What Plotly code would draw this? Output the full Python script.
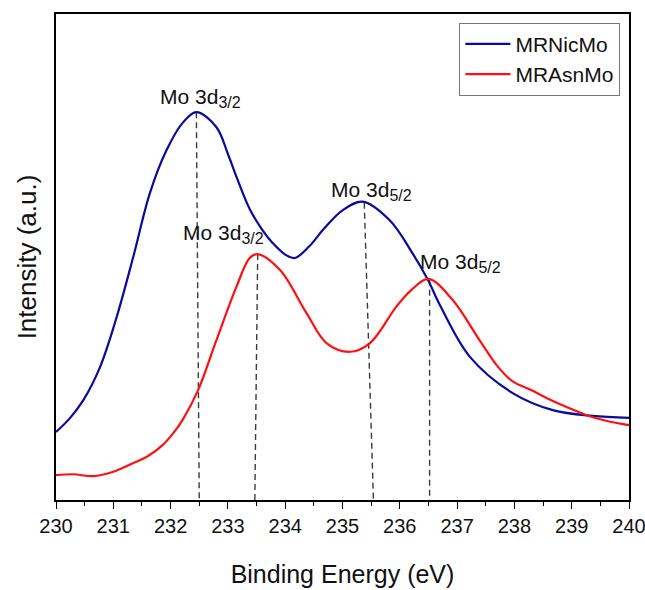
import numpy as np
import plotly.graph_objects as go

# Mo 3d XPS spectra
energy_nic = [230.0, 230.24, 230.48, 230.77, 231.06, 231.35, 231.64, 231.93, 232.21, 232.45,
              232.80, 233.0, 233.15, 233.38, 233.6, 233.78, 234.0, 234.17, 234.42, 234.66,
              235.0, 235.35, 235.82, 236.22, 236.49, 236.70, 237.22, 237.97, 238.67, 239.36, 240.0]
intensity_nic = [14.0, 16.8, 20.6, 27.4, 37.7, 50.1, 63.2, 72.0, 77.6, 79.8,
                 76.7, 71.2, 66.5, 59.9, 55.6, 52.9, 50.5, 49.8, 52.2, 55.6,
                 59.6, 61.4, 57.6, 50.8, 45.3, 40.1, 29.5, 22.0, 18.5, 17.3, 16.9]

energy_asn = [230.0, 230.3, 230.65, 231.0, 231.35, 231.6, 231.87, 232.05, 232.21, 232.48, 232.80,
              233.15, 233.38, 233.52, 233.91, 234.37, 234.72, 235.13, 235.48, 235.94,
              236.20, 236.50, 236.92, 237.39, 237.70, 237.97, 238.30, 238.56, 238.90,
              239.25, 239.60, 240.0]
intensity_asn = [5.1, 5.3, 4.9, 5.8, 7.6, 9.0, 11.4, 13.8, 16.5, 22.6, 32.9,
                 43.9, 49.8, 50.6, 47.3, 38.5, 32.3, 30.5, 32.3, 39.8,
                 43.2, 45.5, 41.2, 32.9, 27.6, 24.4, 22.6, 21.0, 19.2,
                 17.5, 16.3, 15.4]

# Peak guides: energy at the top of each dashed line and at its base
guide_top_energy = [232.45, 233.52, 235.38, 236.52]
guide_base_energy = [232.50, 233.47, 235.54, 236.52]
guide_series = ["nic", "asn", "nic", "asn"]

# Peak labels and where they sit (energy, intensity of the label's lower edge)
peak_labels = ["Mo 3d", "Mo 3d", "Mo 3d", "Mo 3d"]
peak_subs = ["3/2", "3/2", "5/2", "5/2"]
label_energy = [232.53, 232.92, 235.51, 237.06]
label_intensity = [79.6, 51.6, 60.4, 45.6]

x_ticks = list(range(230, 241))

FONT = "Liberation Sans, Arial, sans-serif"

fig = go.Figure()
fig.add_trace(go.Scatter(x=energy_nic, y=intensity_nic, mode="lines", name="MRNicMo",
                         line=dict(color="#0a0a9c", width=2.2, shape="spline", smoothing=1.0)))
fig.add_trace(go.Scatter(x=energy_asn, y=intensity_asn, mode="lines", name="MRAsnMo",
                         line=dict(color="#ff1010", width=2.2, shape="spline", smoothing=1.0)))

series = {"nic": (energy_nic, intensity_nic), "asn": (energy_asn, intensity_asn)}
for top_e, base_e, key in zip(guide_top_energy, guide_base_energy, guide_series):
    ex, iy = series[key]
    top_y = float(np.interp(top_e, ex, iy))
    fig.add_shape(type="line", x0=top_e, y0=top_y, x1=base_e, y1=0,
                  line=dict(color="#3a3a3a", width=1.4, dash="6px,4px"), layer="below")

for lab, sub, le, li in zip(peak_labels, peak_subs, label_energy, label_intensity):
    fig.add_annotation(x=le, y=li, showarrow=False, yanchor="bottom", xanchor="center",
                       text=f"{lab}<sub><span style='font-size:16px'>{sub}</span></sub>",
                       font=dict(family=FONT, size=21, color="#111111"))

fig.update_layout(
    width=645, height=590,
    margin=dict(l=56, r=16, t=14, b=90, autoexpand=False),
    paper_bgcolor="white", plot_bgcolor="white",
    font=dict(family=FONT, color="#111111"),
    legend=dict(x=0.985, y=0.982, xanchor="right", yanchor="top",
                bordercolor="#777777", borderwidth=1, bgcolor="white",
                font=dict(family=FONT, size=21), itemwidth=45, tracegroupgap=0),
    showlegend=True,
)
fig.update_xaxes(range=[230, 240], tickvals=x_ticks, ticktext=[str(t) for t in x_ticks],
                 ticklabeloverflow="allow",
                 ticks="outside", ticklen=7, tickwidth=1.3, tickcolor="black",
                 minor=dict(dtick=0.5, ticks="outside", ticklen=4, tickwidth=1.3, tickcolor="black", showgrid=False),
                 showline=True, linecolor="black", linewidth=1.5, mirror=True,
                 showgrid=False, zeroline=False,
                 tickfont=dict(family=FONT, size=20),
                 title=dict(text="Binding Energy (eV)", font=dict(family=FONT, size=25), standoff=30))
fig.update_yaxes(range=[0, 100], showticklabels=False, ticks="",
                 showline=True, linecolor="black", linewidth=1.5, mirror=True,
                 showgrid=False, zeroline=False,
                 title=dict(text="Intensity (a.u.)", font=dict(family=FONT, size=26), standoff=10))

fig.write_html("out.html")
